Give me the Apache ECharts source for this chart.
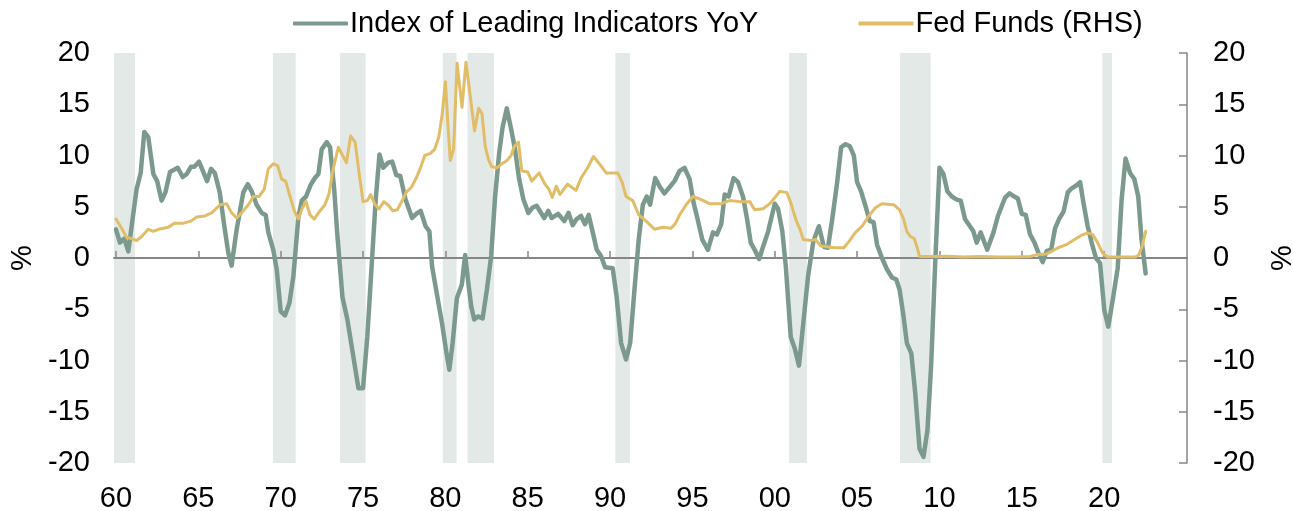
<!DOCTYPE html>
<html>
<head>
<meta charset="utf-8">
<script src="https://cdn.jsdelivr.net/npm/echarts@6/dist/echarts.min.js"></script>
<style>
    html, body { margin: 0; padding: 0; background: #fff; }
    #chart { width: 1293px; height: 511px; }
</style>
</head>
<body>
<div id="chart"></div>
<script>
// Index of Leading Indicators, year-on-year %
var leiYears = [
    1960.0, 1960.24, 1960.5, 1960.75, 1960.95, 1961.25, 1961.5, 1961.72, 1961.96, 1962.27, 1962.5, 1962.77,
    1963.0, 1963.28, 1963.75, 1964.05, 1964.3, 1964.55, 1964.76, 1965.04, 1965.3, 1965.53, 1965.77, 1966.0,
    1966.3, 1966.58, 1966.82, 1967.02, 1967.33, 1967.73, 1968.0, 1968.24, 1968.54, 1968.85, 1969.09, 1969.25,
    1969.55, 1969.76, 1970.0, 1970.26, 1970.53, 1970.77, 1971.07, 1971.28, 1971.54, 1971.84, 1972.08, 1972.29,
    1972.49, 1972.8, 1973.0, 1973.25, 1973.45, 1973.75, 1974.05, 1974.35, 1974.72, 1975.0, 1975.26, 1975.56,
    1975.77, 1976.0, 1976.23, 1976.53, 1976.77, 1977.02, 1977.26, 1977.58, 1977.98, 1978.23, 1978.5, 1978.8,
    1979.03, 1979.19, 1979.44, 1979.8, 1980.04, 1980.24, 1980.44, 1980.7, 1981.0, 1981.2, 1981.4, 1981.57,
    1981.75, 1981.98, 1982.26, 1982.52, 1982.78, 1983.02, 1983.27, 1983.47, 1983.73, 1983.99, 1984.23, 1984.48,
    1984.74, 1985.04, 1985.28, 1985.54, 1986.0, 1986.25, 1986.45, 1986.85, 1987.22, 1987.48, 1987.73, 1987.97,
    1988.24, 1988.48, 1988.7, 1988.95, 1989.19, 1989.45, 1989.7, 1990.16, 1990.4, 1990.67, 1990.97, 1991.22,
    1991.48, 1991.74, 1991.99, 1992.23, 1992.43, 1992.74, 1993.0, 1993.3, 1993.61, 1993.91, 1994.22, 1994.52,
    1994.83, 1995.07, 1995.27, 1995.6, 1995.94, 1996.25, 1996.49, 1996.75, 1996.96, 1997.2, 1997.5, 1997.77,
    1998.07, 1998.32, 1998.54, 1998.78, 1999.05, 1999.29, 1999.6, 2000.0, 2000.2, 2000.46, 2000.67, 2000.97,
    2001.21, 2001.47, 2001.73, 2002.02, 2002.34, 2002.68, 2002.98, 2003.23, 2003.49, 2003.79, 2004.03, 2004.3,
    2004.56, 2004.8, 2005.0, 2005.24, 2005.5, 2005.77, 2006.0, 2006.21, 2006.51, 2006.81, 2007.12, 2007.38,
    2007.58, 2007.82, 2008.02, 2008.29, 2008.53, 2008.79, 2009.03, 2009.27, 2009.5, 2009.74, 2010.0, 2010.24,
    2010.48, 2010.75, 2011.05, 2011.29, 2011.55, 2011.85, 2012.06, 2012.26, 2012.5, 2012.9, 2013.28, 2013.55,
    2013.79, 2013.99, 2014.25, 2014.54, 2014.76, 2015.0, 2015.24, 2015.5, 2015.77, 2016.01, 2016.27, 2016.52,
    2016.78, 2017.02, 2017.26, 2017.53, 2017.79, 2018.03, 2018.33, 2018.54, 2018.74, 2019.0, 2019.24, 2019.5,
    2019.75, 2020.01, 2020.25, 2020.55, 2020.82, 2021.06, 2021.3, 2021.57, 2021.83, 2022.07, 2022.27, 2022.52
];
var leiValues = [
    2.8, 1.5, 1.9, 0.65, 3.1, 6.7, 8.3, 12.3, 11.8, 8.2, 7.5, 5.6,
    6.4, 8.4, 8.8, 7.9, 8.2, 8.9, 8.9, 9.4, 8.4, 7.5, 8.7, 8.3,
    6.4, 3.1, 0.5, -0.75, 2.8, 6.4, 7.2, 6.5, 5.2, 4.4, 4.2, 2.5,
    0.8, -1.1, -5.2, -5.6, -4.4, -1.8, 3.9, 5.6, 6.0, 7.2, 7.8, 8.2,
    10.6, 11.3, 10.8, 6.7, 2.1, -3.8, -6.0, -9.0, -12.7, -12.7, -7.7, 0.2,
    5.7, 10.1, 8.8, 9.3, 9.4, 8.1, 8.0, 5.7, 3.9, 4.3, 4.6, 3.1,
    2.6, -0.8, -3.1, -6.4, -9.0, -10.9, -8.3, -3.9, -2.6, 0.3, -2.5, -4.7,
    -6.0, -5.7, -5.9, -3.1, 0.2, 6.0, 10.3, 12.7, 14.6, 12.6, 10.6, 7.7,
    5.7, 4.4, 4.9, 5.1, 3.9, 4.6, 3.9, 4.3, 3.6, 4.4, 3.2, 3.8,
    4.1, 3.3, 4.2, 2.5, 0.8, 0.2, -0.9, -1.0, -3.8, -8.3, -9.9, -8.3,
    -3.1, 1.8, 5.2, 6.0, 5.2, 7.8, 7.0, 6.3, 6.9, 7.5, 8.5, 8.8,
    7.7, 5.4, 4.1, 1.8, 0.8, 2.5, 2.3, 3.3, 6.2, 6.0, 7.8, 7.4,
    6.0, 3.8, 1.5, 0.8, -0.1, 1.1, 2.6, 5.3, 4.8, 2.6, -0.8, -7.7,
    -8.8, -10.5, -6.4, -1.8, 1.6, 3.1, 1.1, 1.0, 3.8, 7.4, 10.8, 11.1,
    10.9, 10.0, 7.4, 6.5, 5.1, 3.6, 3.5, 1.3, 0.0, -1.1, -1.9, -2.1,
    -3.1, -5.7, -8.3, -9.3, -13.2, -18.6, -19.4, -16.8, -10.3, -0.5, 8.8, 8.2,
    6.5, 6.0, 5.7, 5.6, 3.8, 3.1, 2.6, 1.5, 2.5, 0.8, 2.5, 4.1,
    5.1, 5.9, 6.3, 6.0, 5.8, 4.3, 4.2, 2.3, 1.5, 0.5, -0.4, 0.7,
    0.8, 2.9, 3.8, 4.5, 6.4, 6.8, 7.1, 7.4, 5.4, 3.1, 1.5, 0.0,
    -0.5, -5.1, -6.7, -3.8, -1.0, 5.7, 9.7, 8.3, 7.7, 6.0, 1.8, -1.5
];

// Fed Funds rate %, right hand scale
var fedYears = [
    1960.0, 1960.34, 1960.65, 1960.95, 1961.25, 1961.56, 1961.96, 1962.27, 1962.57, 1963.18, 1963.54, 1964.09,
    1964.55, 1964.9, 1965.4, 1965.81, 1966.32, 1966.72, 1967.02, 1967.33, 1967.63, 1968.04, 1968.34, 1968.68,
    1969.0, 1969.25, 1969.55, 1969.82, 1970.06, 1970.3, 1970.57, 1970.83, 1971.07, 1971.32, 1971.54, 1971.78,
    1972.04, 1972.29, 1972.69, 1972.94, 1973.19, 1973.5, 1973.99, 1974.25, 1974.52, 1974.76, 1975.0, 1975.26,
    1975.46, 1975.73, 1975.97, 1976.27, 1976.57, 1976.81, 1977.08, 1977.38, 1977.62, 1977.94, 1978.23, 1978.49,
    1978.75, 1979.09, 1979.35, 1979.6, 1979.8, 1980.0, 1980.16, 1980.3, 1980.5, 1980.71, 1981.01, 1981.25,
    1981.51, 1981.77, 1982.02, 1982.22, 1982.42, 1982.62, 1982.82, 1983.13, 1983.43, 1983.73, 1983.99, 1984.19,
    1984.44, 1984.64, 1985.0, 1985.24, 1985.69, 1986.05, 1986.29, 1986.49, 1986.73, 1986.96, 1987.42, 1987.93,
    1988.24, 1988.64, 1988.99, 1989.35, 1989.76, 1990.47, 1990.73, 1990.97, 1991.38, 1991.74, 1992.19, 1992.7,
    1993.2, 1993.71, 1993.98, 1994.22, 1994.62, 1995.03, 1995.54, 1996.04, 1996.75, 1997.26, 1997.87, 1998.48,
    1998.78, 1999.29, 1999.7, 2000.06, 2000.3, 2000.73, 2000.97, 2001.27, 2001.53, 2001.73, 2002.18, 2002.48,
    2002.78, 2003.19, 2003.59, 2004.19, 2004.5, 2004.9, 2005.3, 2005.71, 2006.11, 2006.51, 2007.22, 2007.58,
    2007.82, 2008.02, 2008.23, 2008.47, 2008.63, 2008.79, 2009.5, 2010.5, 2011.5, 2012.5, 2013.5, 2014.5,
    2015.5, 2016.0, 2016.5, 2016.8, 2017.2, 2017.7, 2018.2, 2018.6, 2019.0, 2019.3, 2019.6, 2019.9,
    2020.2, 2021.0, 2021.9, 2022.1, 2022.3, 2022.52
];
var fedValues = [
    3.8, 2.9, 2.0, 1.9, 1.7, 2.1, 2.8, 2.6, 2.8, 3.0, 3.4, 3.4,
    3.6, 4.0, 4.1, 4.4, 5.2, 5.3, 4.4, 3.9, 4.4, 5.2, 6.0, 6.0,
    6.7, 8.7, 9.2, 9.0, 7.7, 7.5, 6.0, 4.6, 3.8, 4.9, 5.5, 4.2,
    3.8, 4.4, 5.2, 6.3, 8.7, 10.8, 9.3, 11.9, 11.3, 8.3, 5.5, 5.6,
    6.2, 5.2, 4.8, 5.5, 5.1, 4.6, 4.7, 5.6, 6.4, 6.9, 7.8, 8.8,
    10.0, 10.2, 10.6, 11.8, 13.9, 17.2, 12.9, 9.5, 10.6, 19.0, 14.7, 19.1,
    15.8, 12.4, 14.6, 14.1, 10.9, 9.6, 8.9, 8.8, 9.2, 9.5, 10.0, 10.9,
    11.3, 8.5, 8.4, 7.5, 8.3, 7.2, 6.7, 5.9, 7.0, 6.2, 7.2, 6.6,
    7.8, 8.8, 9.9, 9.2, 8.3, 8.3, 7.4, 6.0, 5.6, 4.2, 3.6, 2.8,
    3.0, 2.9, 3.4, 4.2, 5.2, 6.0, 5.7, 5.3, 5.3, 5.6, 5.5, 5.5,
    4.7, 4.8, 5.3, 6.0, 6.5, 6.4, 5.4, 3.8, 2.8, 1.8, 1.7, 1.8,
    1.2, 1.1, 1.0, 1.0, 1.6, 2.5, 3.1, 4.1, 4.9, 5.3, 5.2, 4.7,
    3.8, 2.6, 2.1, 1.9, 1.1, 0.15, 0.15, 0.18, 0.1, 0.15, 0.1, 0.1,
    0.15, 0.35, 0.4, 0.65, 1.0, 1.3, 1.8, 2.2, 2.45, 2.3, 1.5, 0.5,
    0.1, 0.1, 0.1, 0.3, 1.1, 2.6
];

// US recessions, shaded
var recessionStarts = [1959.88, 1969.53, 1973.61, 1979.85, 1981.34, 1990.32, 2000.87, 2007.6, 2019.89];
var recessionEnds   = [1961.15, 1970.91, 1975.16, 1980.68, 1982.95, 1991.2, 2001.95, 2009.46, 2020.48];

var yearTicks = [1960, 1965, 1970, 1975, 1980, 1985, 1990, 1995, 2000, 2005, 2010, 2015, 2020];

(function main() {
    var fontName = "'Liberation Sans', Arial, sans-serif";
    var textColor = "#000";
    var axisGray = "#868686";
    var leiColor = "#7b9a8d";
    var fedColor = "#e0bd66";

    function pairs(xs, ys)
    {
        var out = [];
        for (var i = 0; i < xs.length; i++) {
            out.push([xs[i], ys[i]]);
        }
        return out;
    }

    function recessionAreas()
    {
        var out = [];
        for (var i = 0; i < recessionStarts.length; i++) {
            out.push([{ xAxis: recessionStarts[i] }, { xAxis: recessionEnds[i] }]);
        }
        return out;
    }

    function yearLabel(v)
    {
        var y = Math.round(v) % 100;
        return (y < 10 ? "0" : "") + y;
    }

    var xMin = 1959.88;
    var xMax = 2025.03;

    var option = {
        animation: false,
        backgroundColor: "#fff",
        textStyle: { fontFamily: fontName },
        legend: {
            left: 288,
            top: 4,
            itemWidth: 55,
            itemHeight: 4,
            itemGap: 100,
            textStyle: { fontSize: 29, color: textColor, fontFamily: fontName, padding: [0, 0, 0, -3] },
            data: [
                { name: "Index of Leading Indicators YoY", icon: "roundRect", itemStyle: { color: leiColor } },
                { name: "Fed Funds (RHS)", icon: "roundRect", itemStyle: { color: fedColor } }
            ]
        },
        grid: { left: 114, right: 106, top: 53, bottom: 48, outerBoundsMode: "none", containLabel: false },
        xAxis: [
            {
                type: "value",
                min: xMin,
                max: xMax,
                position: "bottom",
                axisLine: { show: false },
                axisTick: { show: false },
                splitLine: { show: false },
                axisLabel: {
                    customValues: yearTicks,
                    formatter: yearLabel,
                    fontSize: 29,
                    color: textColor,
                    margin: 21
                }
            },
            {
                type: "value",
                min: xMin,
                max: xMax,
                position: "bottom",
                z: 3,
                axisLine: { show: true, onZero: true, lineStyle: { color: axisGray, width: 2 } },
                axisTick: {
                    show: true,
                    inside: true,
                    length: 7,
                    customValues: yearTicks,
                    lineStyle: { color: axisGray, width: 1.5 }
                },
                axisLabel: { show: false },
                splitLine: { show: false }
            }
        ],
        yAxis: [
            {
                type: "value",
                min: -20,
                max: 20,
                interval: 5,
                name: "%",
                nameLocation: "middle",
                nameGap: 75,
                nameRotate: 90,
                nameTextStyle: { fontSize: 29, color: textColor },
                axisLine: { show: false },
                axisTick: { show: false },
                splitLine: { show: false },
                axisLabel: { fontSize: 29, color: textColor, margin: 24 }
            },
            {
                type: "value",
                position: "right",
                min: -20,
                max: 20,
                interval: 5,
                name: "%",
                nameLocation: "middle",
                nameGap: 81,
                nameRotate: 90,
                nameTextStyle: { fontSize: 29, color: textColor },
                z: 3,
                axisLine: { show: true, onZero: false, lineStyle: { color: axisGray, width: 1.5 } },
                axisTick: { show: true, inside: true, length: 8, lineStyle: { color: axisGray, width: 1.5 } },
                splitLine: { show: false },
                axisLabel: { fontSize: 29, color: textColor, margin: 26 }
            }
        ],
        series: [
            {
                name: "recessions",
                type: "line",
                data: [],
                z: 1,
                silent: true,
                markArea: {
                    silent: true,
                    itemStyle: { color: "#e3e9e7" },
                    data: recessionAreas()
                }
            },
            {
                name: "Index of Leading Indicators YoY",
                type: "line",
                xAxisIndex: 0,
                yAxisIndex: 0,
                z: 5,
                symbol: "none",
                lineStyle: { color: leiColor, width: 4.5, cap: "round", join: "round" },
                itemStyle: { color: leiColor },
                data: pairs(leiYears, leiValues)
            },
            {
                name: "Fed Funds (RHS)",
                type: "line",
                xAxisIndex: 0,
                yAxisIndex: 1,
                z: 6,
                symbol: "none",
                lineStyle: { color: fedColor, width: 3, cap: "round", join: "round" },
                itemStyle: { color: fedColor },
                data: pairs(fedYears, fedValues)
            }
        ]
    };

    var chart = echarts.init(document.getElementById("chart"), null, { renderer: "canvas" });
    chart.setOption(option, true);
})();
</script>
</body>
</html>
